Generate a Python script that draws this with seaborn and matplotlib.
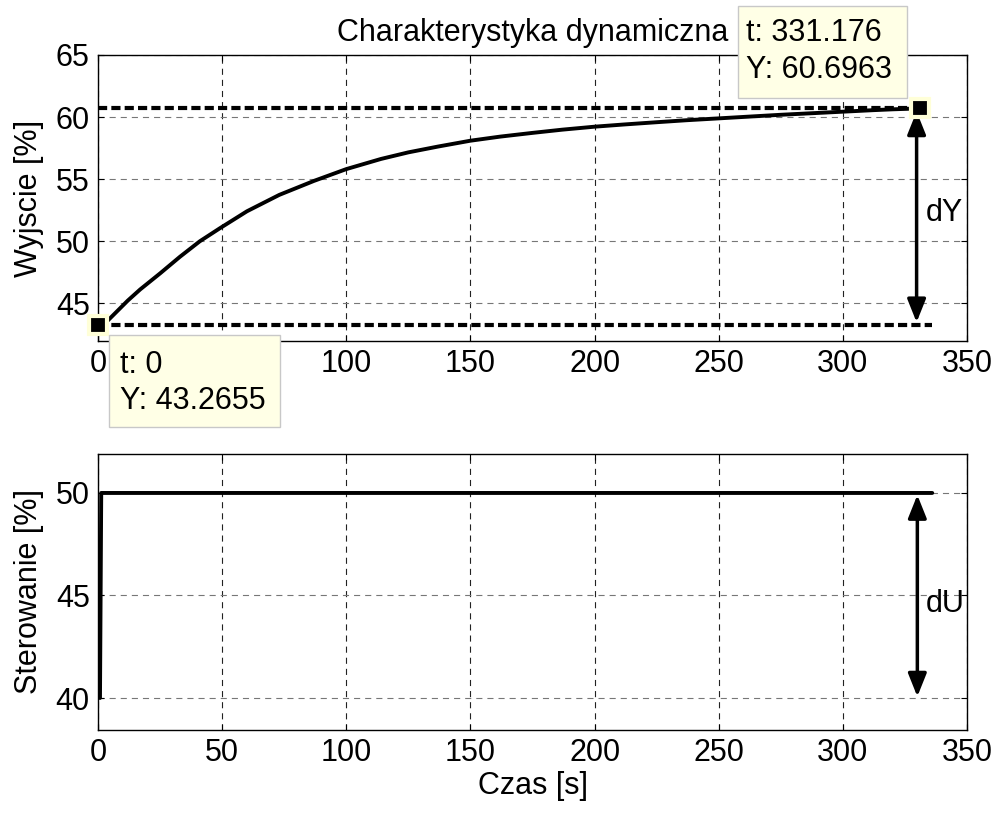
import matplotlib
matplotlib.use("Agg")
import matplotlib.pyplot as plt
import seaborn as sns
from matplotlib.patches import Rectangle, ArrowStyle

# ---- data ----
t_out = [0, 4, 8, 12, 17, 25, 33, 41, 49, 60, 73, 87, 100, 114, 125, 137, 150,
         162, 175, 187, 200, 212, 225, 237, 250, 262, 275, 287, 300, 312, 320, 331.176]
y_out = [43.2655, 43.60, 44.40, 45.20, 46.10, 47.39, 48.73, 49.98, 51.02, 52.40, 53.72,
         54.85, 55.80, 56.62, 57.15, 57.62, 58.09, 58.42, 58.72, 58.98, 59.22,
         59.40, 59.58, 59.74, 59.89, 60.03, 60.18, 60.30, 60.43, 60.55, 60.62, 60.6963]
t_u = [0.8, 1.3, 336]
u_val = [40, 50, 50]

y_start, y_end = 43.2655, 60.6963
t_start, t_end = 0, 331.176
ref_low_end = 336
x_ticks = [0, 50, 100, 150, 200, 250, 300, 350]
y_ticks_top = [45, 50, 55, 60, 65]
y_ticks_bot = [40, 45, 50]

title = "Charakterystyka dynamiczna"
ylabel_top = "Wyjscie [%]"
ylabel_bot = "Sterowanie [%]"
xlabel = "Czas [s]"

sns.set_style("ticks")
plt.rcParams["font.family"] = ["Liberation Sans", "DejaVu Sans"]
plt.rcParams["font.size"] = 22
for k in ("text.color", "axes.labelcolor", "xtick.color", "ytick.color", "axes.edgecolor"):
    plt.rcParams[k] = "black"

W, H = 1000, 825
fig = plt.figure(figsize=(10, 8.25), dpi=100)

def px_rect(l, t, r, b):
    return [l / W, (H - b) / H, (r - l) / W, (b - t) / H]

ax1 = fig.add_axes(px_rect(98, 55, 967, 341))
ax2 = fig.add_axes(px_rect(98, 454, 967, 730))

for ax in (ax1, ax2):
    ax.set_xlim(0, 350)
    ax.set_xticks(x_ticks)
    ax.tick_params(direction="in", length=4, width=0.8, top=True, right=True,
                   labelsize=22, pad=6, colors="k")
    for s in ax.spines.values():
        s.set_linewidth(1.0)
        s.set_color("k")
    ax.xaxis.grid(True, color="#222222", lw=0.8, linestyle=(0, (5.5, 4.5)))
    ax.yaxis.grid(True, color="#777777", lw=0.8, linestyle=(0, (5.5, 4.5)))
    ax.set_axisbelow(True)

# top
ax1.set_ylim(41.94, 65)
ax1.set_yticks(y_ticks_top)
sns.lineplot(x=t_out, y=y_out, ax=ax1, color="k", lw=2.8, sort=False, zorder=3)
ax1.plot([t_start, t_end], [y_end, y_end], color="k", lw=3, dashes=(2.2, 1.0), zorder=3)
ax1.plot([t_start, ref_low_end], [y_start, y_start], color="k", lw=3, dashes=(2.2, 1.0), zorder=3)
ax1.plot([t_start, t_end], [y_start, y_end], ls="none", marker="s", ms=13,
         mfc="k", mec="#FFFFD8", mew=3, clip_on=False, zorder=6)
arrow = ArrowStyle("<|-|>", head_length=0.7, head_width=0.28)
ax1.annotate("", xy=(329.7, 60.45), xytext=(329.7, 43.45),
             arrowprops=dict(arrowstyle=arrow, color="k", lw=2.5, mutation_scale=20,
                             shrinkA=0, shrinkB=0))
ax1.text(333.5, 52.3, "dY", fontsize=22, va="center", ha="left")
ax1.set_title(title, fontsize=22, pad=10)
ax1.set_ylabel(ylabel_top, fontsize=22, labelpad=8)

# bottom
ax2.set_ylim(38.44, 51.9)
ax2.set_yticks(y_ticks_bot)
sns.lineplot(x=t_u, y=u_val, ax=ax2, color="k", lw=2.8, sort=False, zorder=3)
ax2.annotate("", xy=(330, 49.9), xytext=(330, 40.07),
             arrowprops=dict(arrowstyle=arrow, color="k", lw=2.5, mutation_scale=20,
                             shrinkA=0, shrinkB=0))
ax2.text(333.5, 44.6, "dU", fontsize=22, va="center", ha="left")
ax2.set_ylabel(ylabel_bot, fontsize=22, labelpad=8)
ax2.set_xlabel(xlabel, fontsize=22, labelpad=2)

# datatips
def datatip(l, t, r, b, lines, tx, ys):
    fig.add_artist(Rectangle((l / W, (H - b) / H), (r - l) / W, (b - t) / H,
                             transform=fig.transFigure, facecolor="#FFFFE6",
                             edgecolor="#C8C8C8", lw=1.0, zorder=8))
    for txt, yy in zip(lines, ys):
        fig.text(tx / W, (H - yy) / H, txt, fontsize=22, ha="left", va="center", zorder=9)

datatip(738, 6, 907, 98, ["t: 331.176", "Y: 60.6963"], 746, [33, 70])
datatip(109, 335, 280, 427, ["t: 0", "Y: 43.2655"], 120, [365, 401])

fig.savefig("out.png", dpi=100, facecolor="white")
